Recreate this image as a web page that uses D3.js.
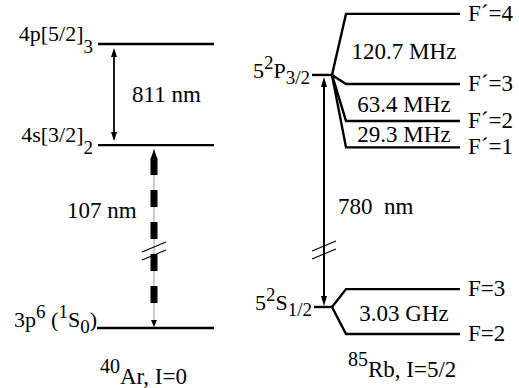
<!DOCTYPE html>
<html>
<head>
<meta charset="utf-8">
<script src="https://cdn.jsdelivr.net/npm/d3@7"></script>
<style>
  html body svg text, html body svg tspan {
    font-family: "Liberation Serif", "Times New Roman", "Tinos", Times !important;
  }
</style>
</head>
<body style="margin:0">
<script>
// schematic level heights (arbitrary units, broken scale)
const arLevels = [
  { key: "4p", e: 100, label: [["4p[5/2]", "n"], ["3", "sub"]] },
  { key: "4s", e: 64.4, label: [["4s[3/2]", "n"], ["2", "sub"]] },
  { key: "g", e: 0, label: [["3p", "n"], ["6", "sup"], [" (", "n"], ["1", "sup"], ["S", "n"], ["0", "sub"], [")", "n"]] }
];
const rbFine = [
  { key: "P", e: 89.1, label: [["5", "n"], ["2", "sup"], ["P", "n"], ["3/2", "sub"]] },
  { key: "S", e: 7.4, label: [["5", "n"], ["2", "sup"], ["S", "n"], ["1/2", "sub"]] }
];
const rbHyperfine = [
  { parent: "P", e: 110.6, label: "F\u00b4=4" },
  { parent: "P", e: 85.9, label: "F\u00b4=3" },
  { parent: "P", e: 72.9, label: "F\u00b4=2" },
  { parent: "P", e: 63.6, label: "F\u00b4=1" },
  { parent: "S", e: 13.7, label: "F=3" },
  { parent: "S", e: -2.1, label: "F=2" }
];
const splittings = [
  { text: "120.7 MHz", e: 97.2 },
  { text: "63.4 MHz", e: 78.5 },
  { text: "29.3 MHz", e: 68.0 },
  { text: "3.03 GHz", e: 5.0 }
];
const transitions = [
  { from: "4s", to: "4p", text: "811 nm" },
  { from: "g", to: "4s", text: "107 nm" },
  { from: "S", to: "P", text: "780  nm" }
];
const atoms = [
  { name: [["40", "sup"], ["Ar, I=0", "n"]] },
  { name: [["85", "sup"], ["Rb, I=5/2", "n"]] }
];

const W = 519, H = 388;
const FONT = '"Liberation Serif", "Times New Roman", Tinos, Times';
const svg = d3.select("body").append("svg")
  .attr("width", W).attr("height", H);

const y = d3.scaleLinear().domain([0, 100]).range([328, 44]);

// text with super/subscripts: one text element per piece, laid side by side
function rich(x, yy, parts, anchor, size, shifts) {
  shifts = shifts || { sup: -8, sub: 11 };
  const small = Math.round(size * 0.85);
  const g = svg.append("g");
  let cur = 0;
  parts.forEach(([s, k]) => {
    const t = g.append("text")
      .attr("x", cur).attr("y", shifts[k] || 0)
      .attr("font-family", FONT)
      .style("font-family", FONT)
      .style("font-size", (k === "n" ? size : small) + "px")
      .style("white-space", "pre")
      .text(s);
    cur += t.node().getComputedTextLength();
  });
  const off = anchor === "end" ? -cur : anchor === "middle" ? -cur / 2 : 0;
  g.attr("transform", `translate(${x + off},${yy})`);
  return g;
}

const line = (x1, y1, x2, y2, w) => svg.append("line")
  .attr("x1", x1).attr("y1", y1).attr("x2", x2).attr("y2", y2)
  .attr("stroke", "#000").attr("stroke-width", w || 2.4);

function head(x, yy, dir, w, h) {
  // dir = -1 points up, 1 points down
  svg.append("path")
    .attr("d", `M${x},${yy} L${x - w / 2},${yy - dir * h} L${x + w / 2},${yy - dir * h} Z`)
    .attr("fill", "#000");
}

function brk(x, yy) {
  [-4, 4].forEach(o => line(x - 12, yy + o + 5, x + 12, yy + o - 5, 1.1));
}

// ---- argon ----
const arY = Object.fromEntries(arLevels.map(d => [d.key, y(d.e)]));
arLevels.forEach(d => {
  line(d.key === "g" ? 97 : 98, y(d.e), 214, y(d.e));
  rich(d.key === "g" ? 97 : 93, y(d.e) - (d.key === "g" ? 1 : 3), d.label, "end", 22,
    d.key === "g" ? { sup: -9, sub: 6 } : { sup: -8, sub: 12 });
});

// 811 nm
line(114, arY["4s"] - 6, 114, arY["4p"] + 7, 1.8);
head(114, arY["4p"] + 4, -1, 6, 9);
head(114, arY["4s"] - 4, 1, 6, 9);
rich(132, (arY["4s"] + arY["4p"]) / 2 + 7, [[transitions[0].text, "n"]], "start", 23);

// 107 nm, dashed
line(154, arY["4s"] + 4, 154, arY["g"] - 3, 1).attr("stroke", "#999");
line(154, arY["4s"] + 13, 154, arY["g"] - 11, 7).attr("stroke-dasharray", "17,15");
head(154, arY["4s"] + 4, -1, 6, 9);
head(154, arY["g"] - 1, 1, 6, 7);
brk(154, 251);
rich(67, 218, [[transitions[1].text, "n"]], "start", 23);

rich(100, 384, atoms[0].name, "start", 23, { sup: -11 });

// ---- rubidium ----
const rbY = Object.fromEntries(rbFine.map(d => [d.key, y(d.e)]));
rbFine.forEach(d => {
  line(d.key === "P" ? 312 : 314, y(d.e), 333, y(d.e));
  rich(d.key === "P" ? 310 : 312, y(d.e) + 3, d.label, "end", 22, { sup: -9, sub: 6 });
});
rbHyperfine.forEach(d => {
  const y0 = rbY[d.parent], y1 = y(d.e);
  svg.append("path")
    .attr("d", `M332,${y0} L346,${y1} L460,${y1}`)
    .attr("fill", "none").attr("stroke", "#000").attr("stroke-width", 2.4)
    .attr("stroke-linejoin", "miter");
  rich(468, y1 + 7, [[d.label, "n"]], "start", 23);
});
splittings.forEach(d => {
  rich(404, y(d.e) + 7, [[d.text, "n"]], "middle", 23);
});

// 780 nm
line(324, rbY["S"] - 6, 324, rbY["P"] + 8, 2);
head(324, rbY["P"] + 2, -1, 6, 10);
head(324, rbY["S"] - 1, 1, 6, 10);
brk(324, 250);
rich(338, 214, [[transitions[2].text, "n"]], "start", 23);

rich(348, 377, atoms[1].name, "start", 23, { sup: -11 });
</script>
</body>
</html>
